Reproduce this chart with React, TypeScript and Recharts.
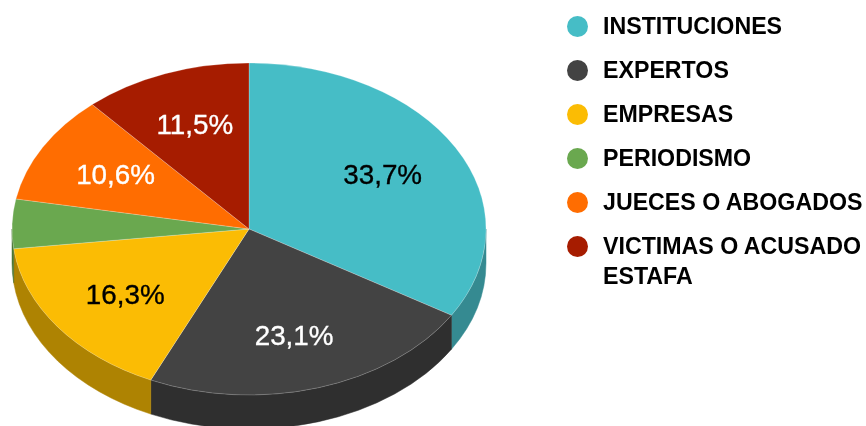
import React from 'react';
import { PieChart, Pie, Legend } from 'recharts';

const categories = ['INSTITUCIONES', 'EXPERTOS', 'EMPRESAS', 'PERIODISMO', 'JUECES O ABOGADOS', 'VICTIMAS O ACUSADO ESTAFA'];
const shares = [33.7, 23.1, 16.3, 4.8, 10.6, 11.5];
const topColors = ['#46BDC6', '#434343', '#FBBC04', '#6AA84F', '#FF6D01', '#A61C00'];
const sideColors = ['#358A91', '#2F2F2F', '#AE8302', '#4A7637', '#B24C01', '#741400'];
const labelColors = ['#000000', '#FFFFFF', '#000000', '#000000', '#FFFFFF', '#FFFFFF'];
const minLabelShare = 5;

const topData = categories.map((name, i) => ({ name, value: shares[i], fill: topColors[i], labelFill: labelColors[i] }));
const sideData = categories.map((name, i) => ({ name, value: shares[i], fill: sideColors[i] }));

const CX = 249;
const CY = 229;
const RX = 237;
const RY = 166;
const DEPTH = 34;
const FONT = '"Liberation Sans", Arial, sans-serif';

const rad = (d: number) => (d * Math.PI) / 180;
const px = (cx: number, a: number, k = 1) => cx + RX * k * Math.sin(rad(a));
const py = (cy: number, a: number, k = 1) => cy - RY * k * Math.cos(rad(a));

function TopSlice(props: any) {
  const { cx, cy, startAngle, endAngle, fill } = props;
  const a0 = 90 - startAngle;
  const a1 = 90 - endAngle;
  const large = a1 - a0 > 180 ? 1 : 0;
  const d = `M${cx},${cy}L${px(cx, a0)},${py(cy, a0)}A${RX},${RY} 0 ${large} 1 ${px(cx, a1)},${py(cy, a1)}Z`;
  return <path d={d} fill={fill} stroke="#FFFFFF" strokeOpacity={0.22} strokeWidth={1} strokeLinejoin="round" />;
}

function SideSlice(props: any) {
  const { cx, cy, startAngle, endAngle, fill } = props;
  const a0 = Math.max(90 - startAngle, 90);
  const a1 = Math.min(90 - endAngle, 270);
  if (a0 >= a1) return <g />;
  const x0 = px(cx, a0);
  const y0 = py(cy, a0);
  const x1 = px(cx, a1);
  const y1 = py(cy, a1);
  const d = `M${x0},${y0}A${RX},${RY} 0 0 1 ${x1},${y1}L${x1},${y1 + DEPTH}A${RX},${RY} 0 0 0 ${x0},${y0 + DEPTH}Z`;
  return <path d={d} fill={fill} stroke={fill} strokeWidth={0.5} />;
}

function SliceLabel(props: any) {
  const { cx, cy, midAngle, value, payload } = props;
  if (value < minLabelShare) return null;
  const a = 90 - midAngle;
  const text = `${value.toFixed(1).replace('.', ',')}%`;
  const fill = payload?.labelFill ?? props.labelFill;
  return (
    <text
      x={px(cx, a, 0.647)}
      y={py(cy, a, 0.672)}
      textAnchor="middle"
      dominantBaseline="central"
      fontFamily={FONT}
      fontSize={27.8}
      fill={fill}
      stroke={fill}
      strokeWidth={0.35}
    >
      {text}
    </text>
  );
}

function LegendList({ payload }: any) {
  const items = (payload ?? []).filter((entry: any) => entry.type !== 'none' && topColors.includes(entry.color));
  return (
    <ul style={{ listStyle: 'none', margin: 0, padding: 0, width: 300, fontFamily: FONT, fontWeight: 700, fontSize: 23.2, color: '#000' }}>
      {items.map((entry: any) => (
        <li key={entry.value} style={{ position: 'relative', paddingLeft: 37, marginBottom: 14, lineHeight: '30px' }}>
          <span
            style={{ position: 'absolute', left: 1, top: 4.5, width: 21, height: 21, borderRadius: '50%', background: entry.color }}
          />
          {entry.value}
        </li>
      ))}
    </ul>
  );
}

export default function App() {
  return (
    <div style={{ position: 'absolute', left: 0, top: 0, width: 866, height: 426, overflow: 'hidden', background: '#fff', filter: 'blur(0.35px)' }}>
      <PieChart width={866} height={426} margin={{ top: 0, right: 0, bottom: 0, left: 0 }}>
        <Pie
          data={sideData}
          dataKey="value"
          nameKey="name"
          cx={CX}
          cy={CY}
          outerRadius={RX}
          startAngle={90}
          endAngle={-270}
          legendType="none"
          isAnimationActive={false}
          shape={SideSlice}
          stroke="none"
        />
        <Pie
          data={topData}
          dataKey="value"
          nameKey="name"
          cx={CX}
          cy={CY}
          outerRadius={RX}
          startAngle={90}
          endAngle={-270}
          isAnimationActive={false}
          shape={TopSlice}
          label={SliceLabel}
          labelLine={false}
        />
        <Legend
          content={LegendList as any}
          layout="vertical"
          align="right"
          verticalAlign="top"
          itemSorter={null as any}
          wrapperStyle={{ position: 'absolute', left: 566, top: 11, width: 300 }}
        />
      </PieChart>
    </div>
  );
}
